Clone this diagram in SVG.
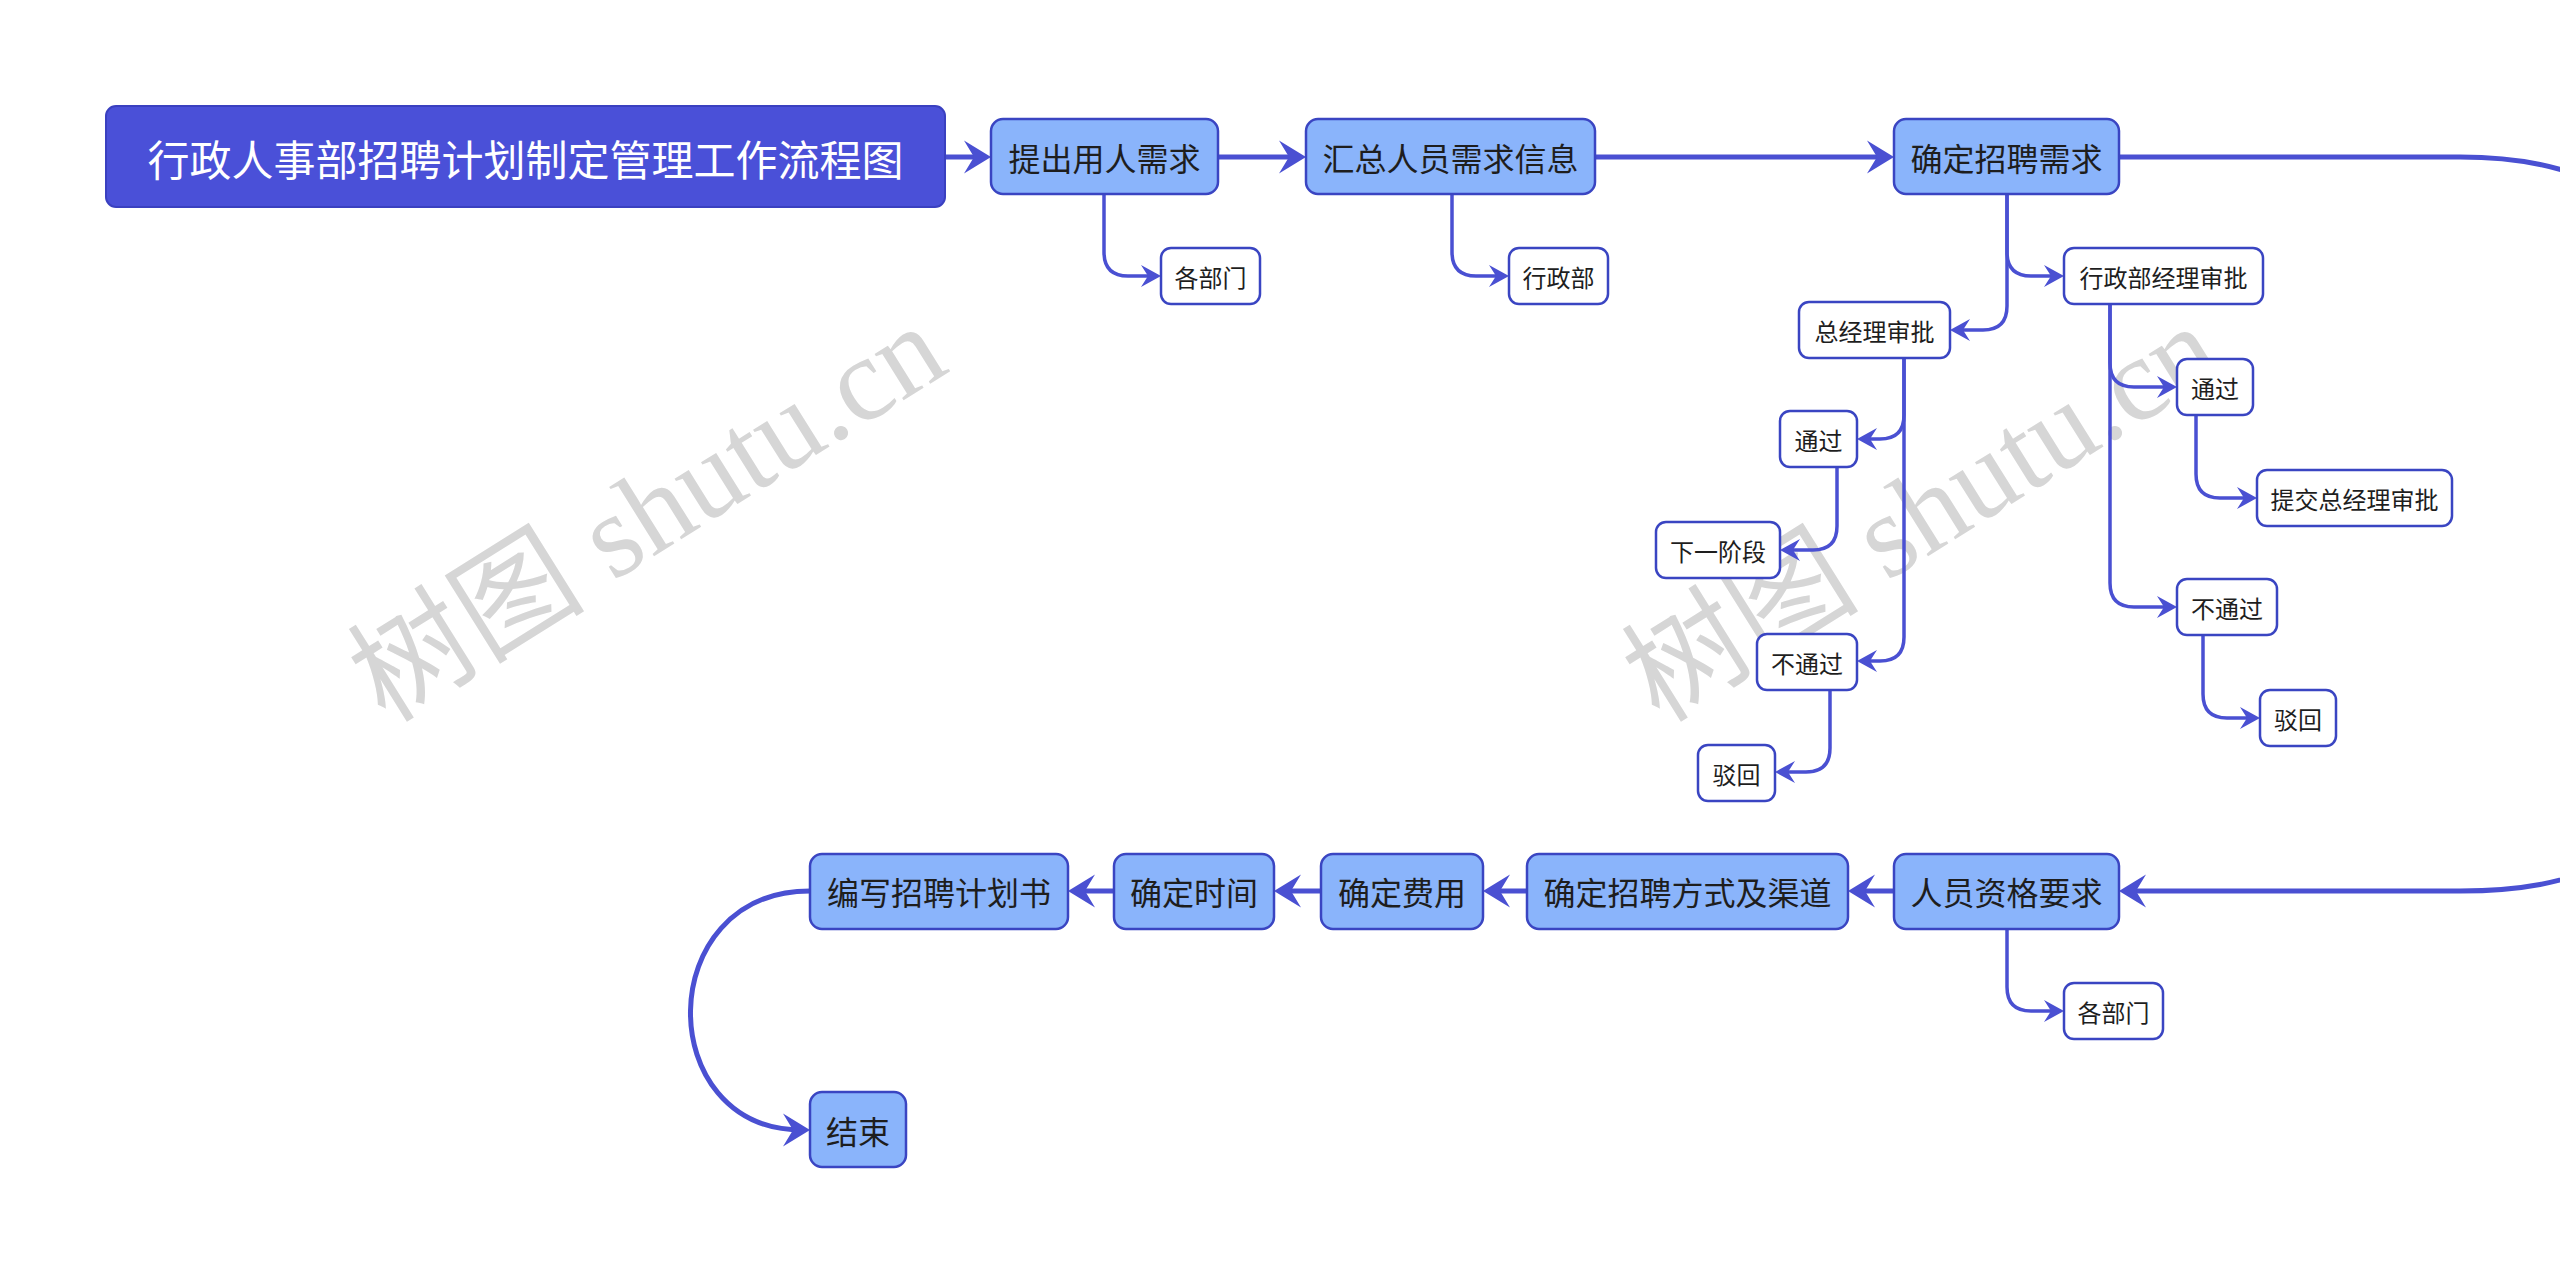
<svg xmlns="http://www.w3.org/2000/svg" width="2560" height="1275" viewBox="0 0 2560 1275">
<defs>
<style>
.wm{font-family:"Liberation Serif","Noto Sans CJK SC",serif;font-size:119px;fill:#d6d6d6;text-anchor:middle}
.title rect{fill:#4a50d8;stroke:#3a40c0;stroke-width:2}
.title text{font-family:"Noto Sans CJK SC",sans-serif;font-size:42px;fill:#ffffff;text-anchor:middle;dominant-baseline:central}
.main rect{fill:#8ab4fb;stroke:#3a45c2;stroke-width:2.5}
.main text{font-family:"Noto Sans CJK SC",sans-serif;font-size:32px;fill:#1e1e1e;text-anchor:middle;dominant-baseline:central}
.sub rect{fill:#ffffff;stroke:#3a45c2;stroke-width:2.5}
.sub text{font-family:"Noto Sans CJK SC",sans-serif;font-size:24px;fill:#1e1e1e;text-anchor:middle;dominant-baseline:central}
.big{fill:none;stroke:#4a50d2;stroke-width:5;marker-end:url(#ab)}
.sm{fill:none;stroke:#4a50d2;stroke-width:3.5;marker-end:url(#as)}
</style>
<marker id="ab" markerUnits="userSpaceOnUse" markerWidth="27" markerHeight="33" refX="19" refY="16.5" orient="auto" overflow="visible">
<path d="M0,0 L27,16.5 L0,33 L10,16.5 Z" fill="#4a50d2"/>
</marker>
<marker id="as" markerUnits="userSpaceOnUse" markerWidth="20" markerHeight="22" refX="14" refY="11" orient="auto" overflow="visible">
<path d="M0,0 L20,11 L0,22 L7,11 Z" fill="#4a50d2"/>
</marker>
</defs>
<rect width="2560" height="1275" fill="#ffffff"/>
<g id="watermarks">
<text class="wm" x="648" y="553" transform="rotate(-32 648 514)">树图 shutu.cn</text>
<text class="wm" x="1922" y="553" transform="rotate(-32 1922 514)">树图 shutu.cn</text>
</g>
<g id="connectors">
<path class="big" d="M945,157 H983"/>
<path class="big" d="M1218,157 H1298"/>
<path class="big" d="M1595,157 H1886"/>
<path class="big" d="M2119,157 H2460 C2520,157 2560,166 2620,190 L2620,860 C2560,884 2520,891 2460,891 H2127"/>
<path class="big" d="M1894,891 H1856"/>
<path class="big" d="M1527,891 H1491"/>
<path class="big" d="M1321,891 H1282"/>
<path class="big" d="M1114,891 H1076"/>
<path class="big" d="M810,891 C652,891 652,1130 802,1130"/>
<path class="sm" d="M1104,194 V252 Q1104,276 1128,276 H1155"/>
<path class="sm" d="M1452,194 V252 Q1452,276 1476,276 H1503"/>
<path class="sm" d="M2007,194 V252 Q2007,276 2031,276 H2058"/>
<path class="sm" d="M2007,194 V306 Q2007,330 1983,330 H1956"/>
<path class="sm" d="M1904,358 V415 Q1904,439 1880,439 H1863"/>
<path class="sm" d="M1904,358 V637 Q1904,661 1880,661 H1863"/>
<path class="sm" d="M1837,467 V526 Q1837,550 1813,550 H1786"/>
<path class="sm" d="M1830,690 V748 Q1830,772 1806,772 H1781"/>
<path class="sm" d="M2110,304 V363 Q2110,387 2134,387 H2171"/>
<path class="sm" d="M2110,304 V583 Q2110,607 2134,607 H2171"/>
<path class="sm" d="M2196,415 V474 Q2196,498 2220,498 H2251"/>
<path class="sm" d="M2203,635 V694 Q2203,718 2227,718 H2254"/>
<path class="sm" d="M2007,929 V987 Q2007,1011 2031,1011 H2058"/>
</g>
<g id="n0" class="title"><rect x="106" y="106" width="839" height="101" rx="10"/><text x="525.5" y="157">行政人事部招聘计划制定管理工作流程图</text></g>
<g id="n1" class="main"><rect x="991" y="119" width="227" height="75" rx="12"/><text x="1104.5" y="157">提出用人需求</text></g>
<g id="n2" class="main"><rect x="1306" y="119" width="289" height="75" rx="12"/><text x="1450.5" y="157">汇总人员需求信息</text></g>
<g id="n3" class="main"><rect x="1894" y="119" width="225" height="75" rx="12"/><text x="2006.5" y="157">确定招聘需求</text></g>
<g id="s1" class="sub"><rect x="1161" y="248" width="99" height="56" rx="10"/><text x="1210.5" y="276">各部门</text></g>
<g id="s2" class="sub"><rect x="1509" y="248" width="99" height="56" rx="10"/><text x="1558.5" y="276">行政部</text></g>
<g id="s3" class="sub"><rect x="2064" y="248" width="199" height="56" rx="10"/><text x="2163.5" y="276">行政部经理审批</text></g>
<g id="s4" class="sub"><rect x="1799" y="302" width="151" height="56" rx="10"/><text x="1874.5" y="330">总经理审批</text></g>
<g id="s5" class="sub"><rect x="1780" y="411" width="77" height="56" rx="10"/><text x="1818.5" y="439">通过</text></g>
<g id="s6" class="sub"><rect x="1757" y="634" width="100" height="56" rx="10"/><text x="1807" y="662">不通过</text></g>
<g id="s7" class="sub"><rect x="1656" y="522" width="124" height="56" rx="10"/><text x="1718" y="550">下一阶段</text></g>
<g id="s8" class="sub"><rect x="1698" y="745" width="77" height="56" rx="10"/><text x="1736.5" y="773">驳回</text></g>
<g id="s9" class="sub"><rect x="2177" y="359" width="76" height="56" rx="10"/><text x="2215" y="387">通过</text></g>
<g id="s10" class="sub"><rect x="2177" y="579" width="100" height="56" rx="10"/><text x="2227" y="607">不通过</text></g>
<g id="s11" class="sub"><rect x="2257" y="470" width="195" height="56" rx="10"/><text x="2354.5" y="498">提交总经理审批</text></g>
<g id="s12" class="sub"><rect x="2260" y="690" width="76" height="56" rx="10"/><text x="2298" y="718">驳回</text></g>
<g id="n4" class="main"><rect x="1894" y="854" width="225" height="75" rx="12"/><text x="2006.5" y="891">人员资格要求</text></g>
<g id="n5" class="main"><rect x="1527" y="854" width="321" height="75" rx="12"/><text x="1687.5" y="891">确定招聘方式及渠道</text></g>
<g id="n6" class="main"><rect x="1321" y="854" width="162" height="75" rx="12"/><text x="1402" y="891">确定费用</text></g>
<g id="n7" class="main"><rect x="1114" y="854" width="160" height="75" rx="12"/><text x="1194" y="891">确定时间</text></g>
<g id="n8" class="main"><rect x="810" y="854" width="258" height="75" rx="12"/><text x="939" y="891">编写招聘计划书</text></g>
<g id="n9" class="main"><rect x="810" y="1092" width="96" height="75" rx="12"/><text x="858" y="1130">结束</text></g>
<g id="s13" class="sub"><rect x="2064" y="983" width="99" height="56" rx="10"/><text x="2113.5" y="1011">各部门</text></g>
</svg>
